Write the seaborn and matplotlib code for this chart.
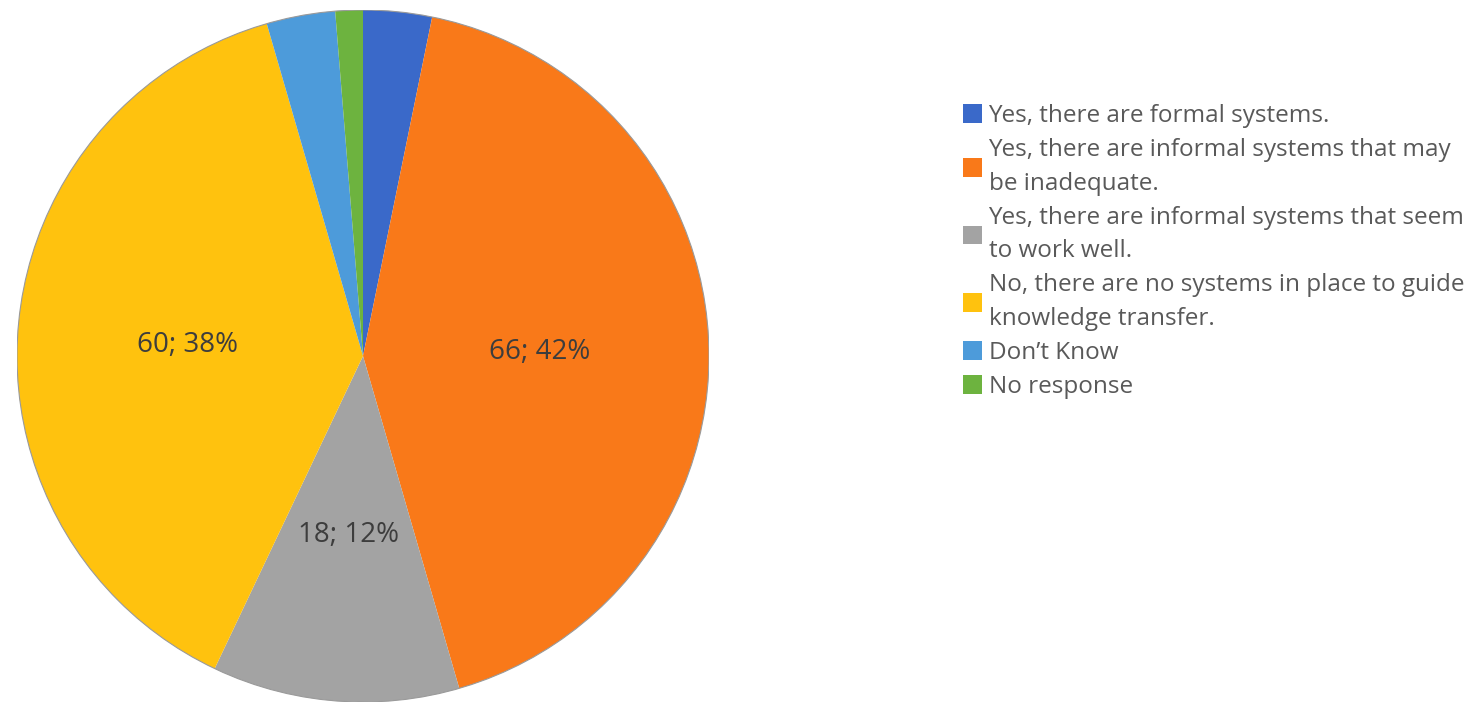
import matplotlib
matplotlib.use("Agg")
import matplotlib.pyplot as plt
from matplotlib.patches import Circle
import seaborn as sns

categories = [
    "Yes, there are formal systems.",
    "Yes, there are informal systems that may\nbe inadequate.",
    "Yes, there are informal systems that seem\nto work well.",
    "No, there are no systems in place to guide\nknowledge transfer.",
    "Don\u2019t Know",
    "No response",
]
counts = [5, 66, 18, 60, 5, 2]
colors = ["#3A69C9", "#F97919", "#A3A3A3", "#FFC20E", "#4D9BDA", "#6DB33F"]

sns.set_theme(style="white")
plt.rcParams['font.family'] = ['Open Sans', 'DejaVu Sans']

W, H = 1475, 704
fig = plt.figure(figsize=(W / 100, H / 100), dpi=100)
cx, cy, r = 363, 356, 346
ax = fig.add_axes([(cx - r) / W, (H - cy - r) / H, 2 * r / W, 2 * r / H])

total = sum(counts)

def fmt(p):
    v = int(round(p * total / 100.0))
    if v < 10:
        return ""
    return f"{v}; {p:.0f}%"

wedges, texts, autotexts = ax.pie(
    counts, colors=colors, startangle=90, counterclock=False,
    autopct=fmt, pctdistance=0.51, radius=1,
    wedgeprops=dict(linewidth=0),
    textprops=dict(color="#3d3d3d", fontsize=20),
)
for t in autotexts:
    t.set_va("center_baseline")
ax.add_patch(Circle((0, 0), 1, fill=False, edgecolor="#9a9a9a", linewidth=0.8))
ax.set_xlim(-1.0, 1.0)
ax.set_ylim(-1.0, 1.0)
ax.set_aspect("equal")
ax.axis("off")

leg = fig.legend(
    wedges, categories, loc="upper left",
    bbox_to_anchor=(963 / W, 1 - 104 / H), frameon=False,
    fontsize=17.5, handlelength=0.8, handleheight=0.8, handletextpad=0.25,
    labelspacing=0.42, borderaxespad=0, borderpad=0,
)
for t in leg.get_texts():
    t.set_color("#595959")
    t.set_linespacing(1.52)

fig.savefig("out.png", dpi=100, facecolor="white")
